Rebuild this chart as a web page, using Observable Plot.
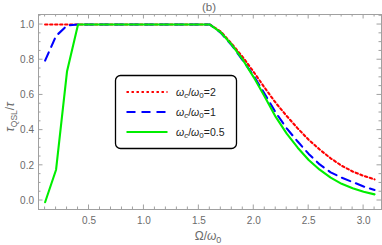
<!DOCTYPE html>
<html><head><meta charset="utf-8">
<script src="https://cdn.jsdelivr.net/npm/d3@7"></script>
<script src="https://cdn.jsdelivr.net/npm/@observablehq/plot@0.6"></script>
<style>
body{margin:0;background:#fff}
#chart{position:relative;width:382px;height:245px}
</style>
</head><body><div id="chart"></div>
<script>
// Ω/ω0 sample points
const omega = [0.1,0.2,0.3,0.4,0.5,0.6,0.7,0.8,0.9,1.0,1.1,1.2,1.3,1.4,1.5,1.6,
               1.7,1.8,1.9,2.0,2.1,2.2,2.3,2.4,2.5,2.6,2.7,2.8,2.9,3.0,3.1];
// τ_QSL/τ for ωc/ω0 = 2
const tauWc2 = [1,1,1,1,1,1,1,1,1,1,1,1,1,1,1,1,
                0.96,0.89,0.815,0.73,0.64,0.555,0.48,0.41,0.345,0.29,0.24,0.198,0.165,0.14,0.12];
// τ_QSL/τ for ωc/ω0 = 1
const tauWc1 = [0.795,0.935,0.995,1,1,1,1,1,1,1,1,1,1,1,1,1,
                0.953,0.882,0.797,0.708,0.605,0.5,0.41,0.335,0.265,0.205,0.16,0.13,0.105,0.08,0.06];
// τ_QSL/τ for ωc/ω0 = 0.5
const tauWc05 = [-0.01,0.175,0.735,1,1,1,1,1,1,1,1,1,1,1,1,1,
                 0.955,0.885,0.8,0.7,0.59,0.475,0.38,0.3,0.23,0.175,0.13,0.095,0.07,0.05,0.035];

const seriesNames = ["2","1","0.5"];
const seriesColors = ["#ff0000","#0000ff","#00ee00"];
const seriesDash = ["2.4,2.6","9,6","none"];

const xMajorTicks = [0.5,1.0,1.5,2.0,2.5,3.0];
const xMinorTicks = [0.1,0.2,0.3,0.4,0.6,0.7,0.8,0.9,1.1,1.2,1.3,1.4,1.6,1.7,1.8,1.9,2.1,2.2,2.3,2.4,2.6,2.7,2.8,2.9,3.1];
const yMajorTicks = [0.0,0.2,0.4,0.6,0.8,1.0];
const yMinorTicks = [0.05,0.1,0.15,0.25,0.3,0.35,0.45,0.5,0.55,0.65,0.7,0.75,0.85,0.9,0.95,1.05];
const xDomain = [0.04, 3.163];
const yDomain = [-0.051, 1.057];

const seriesValues = [tauWc2, tauWc1, tauWc05];
const rows = [];
seriesValues.forEach((vals, s) => vals.forEach((v, i) => rows.push({x: omega[i], y: v, s})));

const font = "'Liberation Sans', Arial, sans-serif";
const plot = Plot.plot({
  width: 382, height: 245,
  marginLeft: 38, marginRight: 1, marginTop: 14, marginBottom: 36,
  x: {domain: xDomain},
  y: {domain: yDomain},
  style: {fontFamily: font, fontSize: "10px", color: "#6b6b6b", background: "#fff", overflow: "visible"},
  marks: [
    Plot.axisX(xMajorTicks, {anchor: "bottom", tickSize: 0, tickPadding: 7, tickFormat: d3.format(".1f"), label: null, fill: "#6b6b6b"}),
    Plot.axisY(yMajorTicks, {anchor: "left", tickSize: 0, tickPadding: 4.5, tickFormat: d3.format(".1f"), label: null, fill: "#6b6b6b"}),
    ...seriesNames.map((n, s) => Plot.line(rows.filter(d => d.s === s), {
      x: "x", y: "y", stroke: seriesColors[s], strokeWidth: 2.1,
      strokeDasharray: seriesDash[s] === "none" ? null : seriesDash[s],
      strokeLinejoin: "round"
    })),
    Plot.frame({stroke: "#a0a0a0", strokeWidth: 1})
  ]
});
document.getElementById("chart").appendChild(plot);

const svg = d3.select(plot);
const sx = plot.scale("x"), sy = plot.scale("y");
const X = v => sx.apply(v), Y = v => sy.apply(v);
const xl = X(xDomain[0]), xr = X(xDomain[1]);
const yb = Y(yDomain[0]), yt = Y(yDomain[1]);
const tg = svg.append("g").attr("stroke", "#a0a0a0").attr("stroke-width", 1);
const tick = (x1, y1, x2, y2) => tg.append("line").attr("x1", x1).attr("y1", y1).attr("x2", x2).attr("y2", y2);
xMajorTicks.forEach(v => { tick(X(v), yb, X(v), yb - 4.5); tick(X(v), yt, X(v), yt + 4.5); });
xMinorTicks.forEach(v => { tick(X(v), yb, X(v), yb - 2.5); tick(X(v), yt, X(v), yt + 2.5); });
yMajorTicks.forEach(v => { tick(xl, Y(v), xl + 4.5, Y(v)); tick(xr, Y(v), xr - 4.5, Y(v)); });
yMinorTicks.forEach(v => { tick(xl, Y(v), xl + 2.5, Y(v)); tick(xr, Y(v), xr - 2.5, Y(v)); });

// title
svg.append("text").attr("x", 209).attr("y", 11).attr("text-anchor", "middle")
  .attr("font-family", font).attr("font-size", 11.5).attr("fill", "#6b6b6b").text("(b)");

// x label Ω/ω0
const xlab = svg.append("text").attr("x", 208).attr("y", 240).attr("text-anchor", "middle")
  .attr("font-family", font).attr("font-size", 12).attr("fill", "#6b6b6b");
xlab.append("tspan").text("Ω/");
xlab.append("tspan").attr("font-style", "italic").text("ω");
xlab.append("tspan").attr("font-size", 9).attr("dy", 3).text("0");

// y label τ_QSL/τ
const ylab = svg.append("text").attr("transform", "translate(14,117) rotate(-90)").attr("text-anchor", "middle")
  .attr("font-family", font).attr("font-size", 12).attr("fill", "#6b6b6b");
ylab.append("tspan").attr("font-style", "italic").text("τ");
ylab.append("tspan").attr("font-size", 8.5).attr("dy", 3).text("QSL");
ylab.append("tspan").attr("dy", -3).text("/");
ylab.append("tspan").attr("font-style", "italic").text("τ");

// legend
const lg = svg.append("g");
lg.append("rect").attr("x", 115.5).attr("y", 75.5).attr("width", 121).attr("height", 73).attr("rx", 5)
  .attr("fill", "#fff").attr("stroke", "#000").attr("stroke-width", 1.3);
const rowY = [92, 112, 132];
seriesNames.forEach((n, s) => {
  const y = rowY[s];
  lg.append("line").attr("x1", 126.5).attr("x2", 167.5).attr("y1", y).attr("y2", y)
    .attr("stroke", seriesColors[s]).attr("stroke-width", 2.1)
    .attr("stroke-dasharray", seriesDash[s] === "none" ? null : seriesDash[s]);
  const t = lg.append("text").attr("x", 176).attr("y", y + 3.5).attr("text-anchor", "start")
    .attr("font-family", font).attr("font-size", 10.5).attr("fill", "#222");
  t.append("tspan").attr("font-style", "italic").text("ω");
  t.append("tspan").attr("font-style", "italic").attr("font-size", 8).attr("dy", 2.5).text("c");
  t.append("tspan").attr("dy", -2.5).text("/");
  t.append("tspan").attr("font-style", "italic").text("ω");
  t.append("tspan").attr("font-size", 8).attr("dy", 2.5).text("0");
  t.append("tspan").attr("dy", -2.5).text("=" + n);
});
</script>
</body></html>
